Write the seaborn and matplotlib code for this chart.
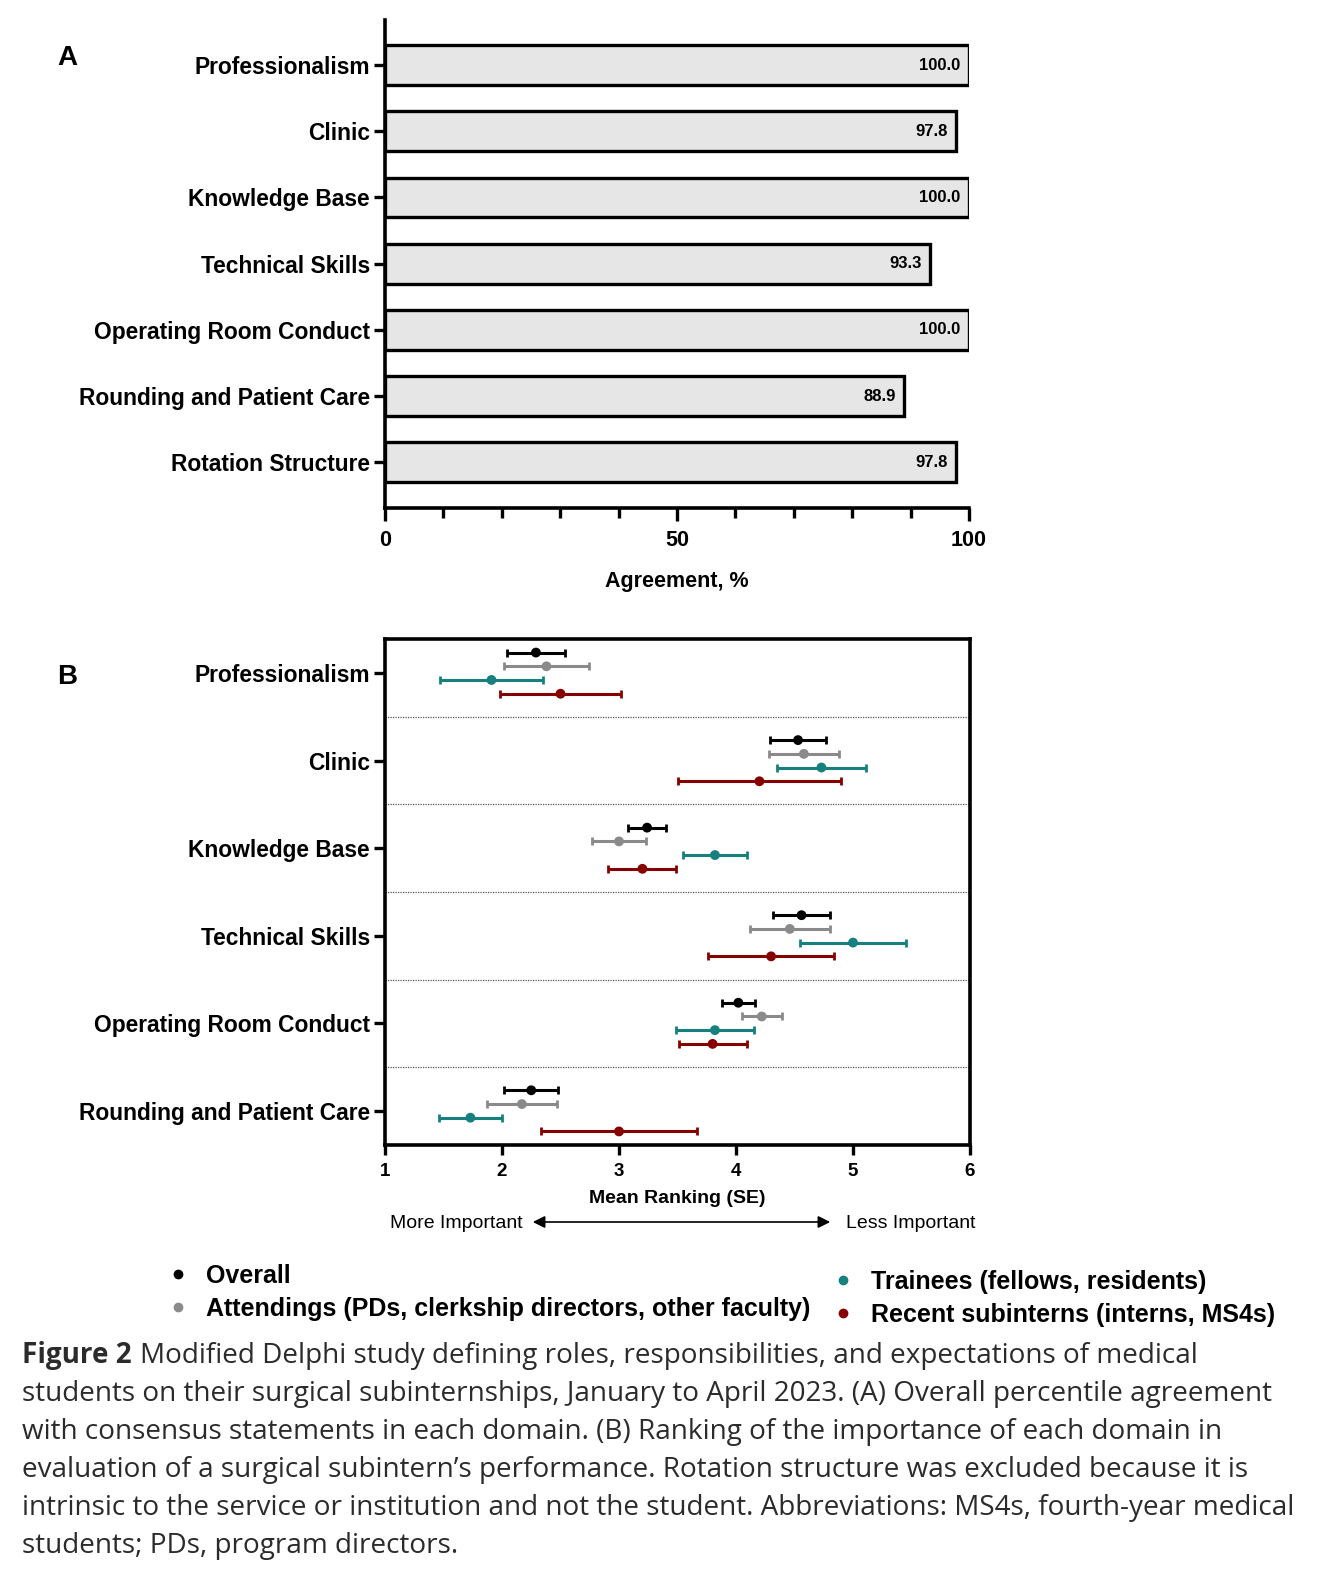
"""
Figure 2: agreement per domain (A) and mean ranking by respondent group (B).
"""

import numpy as np
import pandas as pd
import seaborn as sns
import matplotlib.pyplot as plt
from matplotlib.lines import Line2D

# Panel A: overall agreement with consensus statements, %.
domains_a = [
    "Professionalism",
    "Clinic",
    "Knowledge Base",
    "Technical Skills",
    "Operating Room Conduct",
    "Rounding and Patient Care",
    "Rotation Structure",
]
agreement = [100.0, 97.8, 100.0, 93.3, 100.0, 88.9, 97.8]

# Panel B: mean ranking (SE) per group, rotation structure excluded.
domains_b = domains_a[:6]
groups = [
    "Overall",
    "Attendings (PDs, clerkship directors, other faculty)",
    "Trainees (fellows, residents)",
    "Recent subinterns (interns, MS4s)",
]
overall_mean = [2.29, 4.53, 3.24, 4.56, 4.02, 2.25]
overall_se = [0.25, 0.24, 0.16, 0.24, 0.14, 0.23]
attending_mean = [2.38, 4.58, 3.00, 4.46, 4.22, 2.17]
attending_se = [0.36, 0.30, 0.23, 0.34, 0.17, 0.30]
trainee_mean = [1.91, 4.73, 3.82, 5.00, 3.82, 1.73]
trainee_se = [0.44, 0.38, 0.27, 0.45, 0.33, 0.27]
subintern_mean = [2.50, 4.20, 3.20, 4.30, 3.80, 3.00]
subintern_se = [0.52, 0.70, 0.29, 0.54, 0.29, 0.67]

group_colors = ["#000000", "#8a8a8a", "#16807f", "#860000"]

caption_lines = [
    "students on their surgical subinternships, January to April 2023. (A) Overall percentile agreement",
    "with consensus statements in each domain. (B) Ranking of the importance of each domain in",
    "evaluation of a surgical subintern\u2019s performance. Rotation structure was excluded because it is",
    "intrinsic to the service or institution and not the student. Abbreviations: MS4s, fourth-year medical",
    "students; PDs, program directors.",
]
caption_first = "Modified Delphi study defining roles, responsibilities, and expectations of medical"

sns.set_style("ticks")
plt.rcParams["font.family"] = ["Liberation Sans", "DejaVu Sans"]
plt.rcParams.update({
    "text.color": "black",
    "axes.labelcolor": "black",
    "axes.edgecolor": "black",
    "xtick.color": "black",
    "ytick.color": "black",
})

W, H = 1332, 1572
fig = plt.figure(figsize=(W / 100, H / 100), dpi=100)


def fx(px):
    return px / W


def fy(py):
    return 1 - py / H


LABEL_SIZE = 16.4

# ---------------- Panel A ----------------
ax_a = fig.add_axes([fx(385), fy(508), fx(969) - fx(385), fy(20) - fy(508)])
df_a = pd.DataFrame({"Domain": domains_a, "Agreement": agreement})
sns.barplot(
    data=df_a,
    x="Agreement",
    y="Domain",
    orient="h",
    color="#e6e6e6",
    saturation=1,
    edgecolor="black",
    linewidth=2.4,
    width=0.6,
    ax=ax_a,
)
for i, v in enumerate(agreement):
    ax_a.annotate(
        f"{v:.1f}",
        xy=(v, i),
        xytext=(-6, 0),
        textcoords="offset points",
        ha="right",
        va="center",
        fontsize=12,
        fontweight="bold",
    )
ax_a.set_xlim(0, 100)
ax_a.set_ylim(6.69, -0.68)
ax_a.set_xticks([0, 50, 100])
ax_a.set_xticks(np.arange(0, 101, 10), minor=True)
ax_a.tick_params(axis="x", which="major", length=9, width=2.4, pad=7, labelsize=15.5)
ax_a.tick_params(axis="x", which="minor", length=7, width=2.4)
ax_a.tick_params(axis="y", length=8, width=2.4, pad=3, labelsize=LABEL_SIZE)
for lab in ax_a.get_xticklabels() + ax_a.get_yticklabels():
    lab.set_fontweight("bold")
ax_a.set_xlabel("Agreement, %", fontsize=15.5, fontweight="bold", labelpad=14)
ax_a.set_ylabel("")
sns.despine(ax=ax_a)
for s in ["left", "bottom"]:
    ax_a.spines[s].set_linewidth(2.6)

# ---------------- Panel B ----------------
ax_b = fig.add_axes([fx(385), fy(1145), fx(970) - fx(385), fy(639) - fy(1145)])
means = [overall_mean, attending_mean, trainee_mean, subintern_mean]
ses = [overall_se, attending_se, trainee_se, subintern_se]
offsets = [-0.235, -0.078, 0.078, 0.235]
rows = []
for g, m, s, off in zip(groups, means, ses, offsets):
    for k, d in enumerate(domains_b):
        rows.append({"Group": g, "Domain": d, "Mean": m[k], "SE": s[k], "ypos": k + off})
df_b = pd.DataFrame(rows)

for g, c in zip(groups, group_colors):
    sub = df_b[df_b["Group"] == g]
    ax_b.errorbar(
        sub["Mean"],
        sub["ypos"],
        xerr=sub["SE"],
        fmt="none",
        ecolor=c,
        elinewidth=2.2,
        capsize=3,
        capthick=2,
        zorder=2,
    )
sns.scatterplot(
    data=df_b,
    x="Mean",
    y="ypos",
    hue="Group",
    hue_order=groups,
    palette=group_colors,
    s=50,
    edgecolor="none",
    legend=False,
    zorder=3,
    ax=ax_b,
)
for k in range(len(domains_b) - 1):
    ax_b.axhline(k + 0.5, color="#555555", linestyle=(0, (1, 1)), linewidth=0.9, zorder=1)

ax_b.set_xlim(1, 6)
ax_b.set_ylim(5.39, -0.39)
ax_b.set_yticks(range(len(domains_b)))
ax_b.set_yticklabels(domains_b)
ax_b.set_xticks(range(1, 7))
ax_b.tick_params(axis="x", length=7, width=2.4, pad=6, labelsize=13.5)
ax_b.tick_params(axis="y", length=8, width=2.4, pad=3, labelsize=LABEL_SIZE)
for lab in ax_b.get_xticklabels() + ax_b.get_yticklabels():
    lab.set_fontweight("bold")
ax_b.set_xlabel("Mean Ranking (SE)", fontsize=14, fontweight="bold", labelpad=7)
ax_b.set_ylabel("")
for s in ax_b.spines.values():
    s.set_linewidth(2.6)

# importance direction arrow
fig.text(fx(523), fy(1223), "More Important", ha="right", va="center", fontsize=14)
fig.text(fx(846), fy(1223), "Less Important", ha="left", va="center", fontsize=14)
ax_b.annotate(
    "",
    xy=(fx(530), fy(1222)),
    xytext=(fx(833), fy(1222)),
    xycoords="figure fraction",
    textcoords="figure fraction",
    arrowprops=dict(arrowstyle="<|-|>", color="black", lw=1.2, mutation_scale=18),
    annotation_clip=False,
)

# panel letters
fig.text(fx(57), fy(58), "A", ha="left", va="center", fontsize=20, fontweight="bold")
fig.text(fx(57), fy(677), "B", ha="left", va="center", fontsize=20, fontweight="bold")

# ---------------- Legend ----------------
handles = [
    Line2D([], [], marker="o", linestyle="none", color=c, markersize=6)
    for c in group_colors
]
leg_kw = dict(
    frameon=False,
    handlelength=0.6,
    handletextpad=0.85,
    labelspacing=0.35,
    borderpad=0,
    borderaxespad=0,
    prop={"weight": "bold", "size": 18},
)
fig.legend(handles[:2], groups[:2], loc="upper left",
           bbox_to_anchor=(fx(170), fy(1264)), **leg_kw)
fig.legend(handles[2:], groups[2:], loc="upper left",
           bbox_to_anchor=(fx(835), fy(1270)), **leg_kw)

# ---------------- Caption ----------------
cap_kw = dict(family=["Open Sans", "DejaVu Sans"], color="#2b2b2b", va="baseline")
cap_size = 17
fig.canvas.draw()
probe = fig.text(0, 0, caption_lines[3], fontsize=cap_size, **cap_kw)
w = probe.get_window_extent(fig.canvas.get_renderer()).width
probe.remove()
cap_size = cap_size * (1296 - 22) / w

bold = fig.text(fx(22), fy(1363), "Figure 2", fontsize=cap_size, fontweight="bold", **cap_kw)
fig.canvas.draw()
bw = bold.get_window_extent(fig.canvas.get_renderer()).width
fig.text(fx(22 + bw + 8), fy(1363), caption_first, fontsize=cap_size, **cap_kw)
for i, line in enumerate(caption_lines):
    fig.text(fx(22), fy(1363 + 38 * (i + 1)), line, fontsize=cap_size, **cap_kw)

fig.savefig("out.png", dpi=100)
